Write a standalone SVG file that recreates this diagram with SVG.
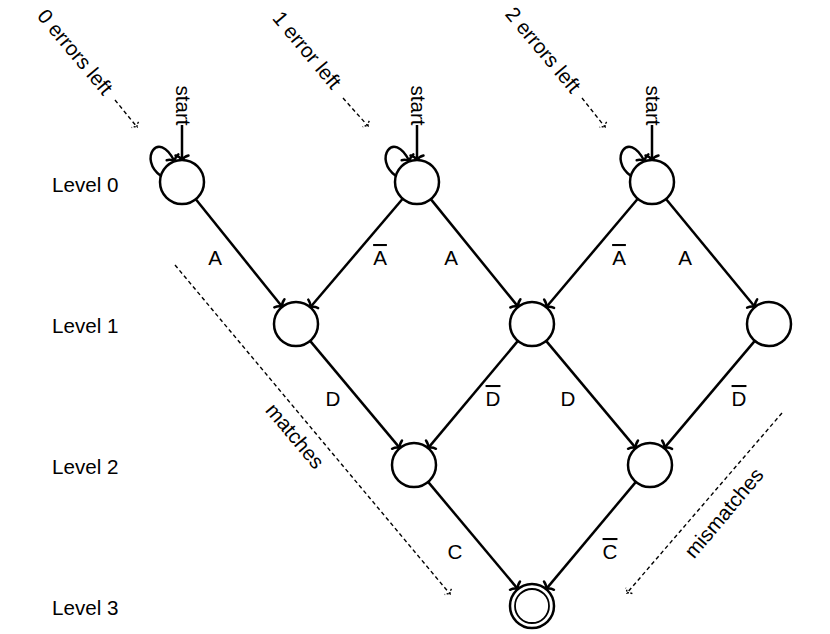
<svg xmlns="http://www.w3.org/2000/svg" width="830" height="634" viewBox="0 0 830 634">
<defs>
<style>
text{font-family:"Liberation Sans",Arial,sans-serif;font-size:20.6px;fill:#000}
.lbl{text-anchor:middle}
.bar{text-decoration:overline}
.st{fill:#fff;stroke:#000;stroke-width:2.5}
.e{fill:none;stroke:#000;stroke-width:2.5;marker-end:url(#to)}
.d{fill:none;stroke:#000;stroke-width:1.4;stroke-dasharray:4,3;marker-end:url(#tod)}
</style>
<marker id="to" markerUnits="userSpaceOnUse" orient="auto" refX="0" refY="0" markerWidth="20" markerHeight="20" overflow="visible">
<path d="M -4.5,-6.5 C -3.5,-2.8 -1.2,-0.7 0,0 C -1.2,0.7 -3.5,2.8 -4.5,6.5" fill="none" stroke="#000" stroke-width="2.5" stroke-linecap="round"/>
</marker>
<marker id="tod" markerUnits="userSpaceOnUse" orient="auto" refX="0" refY="0" markerWidth="20" markerHeight="20" overflow="visible">
<path d="M -3,-4.5 C -2.3,-2 -0.8,-0.5 0,0 C -0.8,0.5 -2.3,2 -3,4.5" fill="none" stroke="#000" stroke-width="1.4" stroke-dasharray="2,1.5"/>
</marker>
</defs>
<rect width="830" height="634" fill="#fff"/>

<g id="levels">
<text x="52" y="192">Level 0</text>
<text x="52" y="333">Level 1</text>
<text x="52" y="474">Level 2</text>
<text x="52" y="615">Level 3</text>
</g>

<g id="annotations">
<text class="lbl" transform="translate(75,52) rotate(50)" y="7">0 errors left</text>
<text class="lbl" transform="translate(307,50) rotate(50)" y="7">1 error left</text>
<text class="lbl" transform="translate(543,50) rotate(50)" y="7">2 errors left</text>
<text class="lbl" transform="translate(295,436) rotate(50)" y="7">matches</text>
<text class="lbl" transform="translate(724,513) rotate(-50)" y="7">mismatches</text>
<path class="d" d="M115,100 L137,127"/>
<path class="d" d="M343,98 L368,126"/>
<path class="d" d="M582,98 L605,127"/>
<path class="d" d="M175,265 L450,594"/>
<path class="d" d="M782,413 L627,593"/>
</g>

<g id="connectors">
<path class="e" d="M182,125 L182,160"/>
<path class="e" d="M417,125 L417,160"/>
<path class="e" d="M652,125 L652,160"/>
<text class="lbl" transform="translate(183,105.5) rotate(90)" y="7">start</text>
<text class="lbl" transform="translate(418,105.5) rotate(90)" y="7">start</text>
<text class="lbl" transform="translate(653,105.5) rotate(90)" y="7">start</text>
<path class="e" d="M161,176 C138,160 158,128 174.5,161.3"/>
<path class="e" d="M396,176 C373,160 393,128 409.5,161.3"/>
<path class="e" d="M631,176 C608,160 628,128 644.5,161.3"/>
<path class="e" d="M195.8,199.2 L282.2,306.8"/>
<path class="e" d="M402.7,198.7 L310.3,307.3"/>
<path class="e" d="M430.8,199.1 L518.2,306.9"/>
<path class="e" d="M637.8,198.8 L546.2,307.2"/>
<path class="e" d="M666,199 L755,307"/>
<path class="e" d="M310.1,340.9 L399.9,448.1"/>
<path class="e" d="M517.9,340.9 L428.1,448.1"/>
<path class="e" d="M546.1,340.9 L635.9,448.1"/>
<path class="e" d="M754.8,340.9 L664.2,448.1"/>
<path class="e" d="M428.1,481.9 L517.9,589.1"/>
<path class="e" d="M635.9,481.9 L546.1,589.1"/>
<text class="lbl" x="215" y="265">A</text>
<text class="lbl bar" x="380" y="265">A</text>
<text class="lbl" x="451" y="265">A</text>
<text class="lbl bar" x="619" y="265">A</text>
<text class="lbl" x="685" y="265">A</text>
<text class="lbl" x="333" y="406">D</text>
<text class="lbl bar" x="493" y="406">D</text>
<text class="lbl" x="568" y="406">D</text>
<text class="lbl bar" x="739" y="406">D</text>
<text class="lbl" x="455" y="559">C</text>
<text class="lbl bar" x="610" y="559">C</text>
</g>

<g id="n00"><circle class="st" cx="182" cy="182" r="22"/></g>
<g id="n01"><circle class="st" cx="417" cy="182" r="22"/></g>
<g id="n02"><circle class="st" cx="652" cy="182" r="22"/></g>
<g id="n10"><circle class="st" cx="296" cy="324" r="22"/></g>
<g id="n11"><circle class="st" cx="532" cy="324" r="22"/></g>
<g id="n12"><circle class="st" cx="769" cy="324" r="22"/></g>
<g id="n20"><circle class="st" cx="414" cy="465" r="22"/></g>
<g id="n21"><circle class="st" cx="650" cy="465" r="22"/></g>
<g id="n30"><circle class="st" cx="532" cy="606" r="22"/><circle cx="532" cy="606" r="17" fill="none" stroke="#000" stroke-width="1.8"/></g>
</svg>
